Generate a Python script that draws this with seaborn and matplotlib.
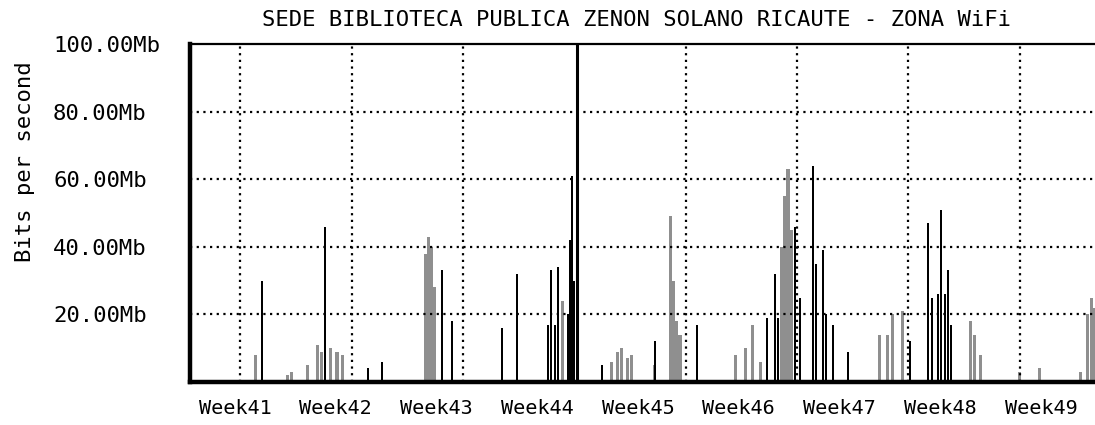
import matplotlib
matplotlib.use("Agg")
import matplotlib.pyplot as plt
import seaborn as sns

# Traffic samples: time in days from the left edge of the graph, rate in Mb/s
in_days = [4.10, 6.12, 6.43, 7.38, 8.01, 8.32, 8.83, 9.27, 9.59,
           14.82, 15.01, 15.20, 15.39, 23.52,
           26.61, 26.93, 27.24, 27.56, 27.87,
           29.32, 30.27, 30.46, 30.71, 30.90,
           34.37, 35.00, 35.50, 35.95,
           37.33, 37.52, 37.71, 37.90,
           43.51, 43.96, 44.33, 44.90,
           49.19, 49.50, 49.82, 52.34, 53.60, 56.13, 56.57, 56.82, 57.01]
in_mbps = [8, 2, 3, 5, 11, 9, 10, 9, 8,
           38, 43, 40, 28, 24,
           6, 9, 10, 7, 8,
           5, 49, 30, 18, 14,
           8, 10, 17, 6,
           40, 55, 63, 45,
           14, 14, 20, 21,
           18, 14, 8, 3, 4, 3, 20, 25, 22]

out_days = [4.54, 8.51, 11.23, 12.11, 15.89, 16.52,
            19.68, 20.62, 22.58, 22.77, 23.02, 23.21,
            23.84, 23.96, 24.09, 24.22, 25.98,
            29.32, 31.97, 36.39, 36.89, 37.08,
            38.15, 38.47, 39.29, 39.48, 39.92, 40.11, 40.55, 41.50,
            45.41, 46.54, 46.79, 47.17, 47.36, 47.61, 47.80, 47.99]
out_mbps = [30, 46, 4, 6, 33, 18,
            16, 32, 17, 33, 17, 34,
            20, 42, 61, 30, 5,
            12, 17, 19, 32, 19,
            46, 25, 64, 35, 39, 20, 17, 9,
            12, 47, 25, 26, 51, 26, 33, 17]

week_labels = ["Week41", "Week42", "Week43", "Week44", "Week45",
               "Week46", "Week47", "Week48", "Week49"]
y_ticks = [20, 40, 60, 80, 100]
y_tick_labels = ["20.00Mb", "40.00Mb", "60.00Mb", "80.00Mb", "100.00Mb"]

title = "SEDE BIBLIOTECA PUBLICA ZENON SOLANO RICAUTE - ZONA WiFi"

sns.set_theme(style="white")
mono = ["DejaVu Sans Mono", "DejaVu Sans"]
plt.rcParams["font.family"] = mono

W, H = 1095, 425
fig = plt.figure(figsize=(W / 100, H / 100), dpi=100)
fig.patch.set_facecolor("white")
ax = fig.add_axes([190 / W, 43 / H, 905 / W, 338 / H])
ax.set_facecolor("white")

sns.barplot(x=in_days, y=in_mbps, native_scale=True, orient="x",
            color="#8f8f8f", width=1.0, errorbar=None, linewidth=0,
            saturation=1, ax=ax, zorder=2)
sns.barplot(x=out_days, y=out_mbps, native_scale=True, orient="x",
            color="black", width=1.3, errorbar=None, linewidth=0,
            saturation=1, ax=ax, zorder=3)

x_max = 57.07
ax.set_xlim(0, x_max)
ax.set_ylim(0, 100)

# dotted grid: horizontal every 20 Mb, vertical at each week boundary
dot = (0, (1, 2))
for yv in y_ticks[:-1]:
    ax.axhline(yv, color="black", lw=1.6, linestyle=dot, zorder=4)
grid_start, grid_step = 3.17, 7.02
for i in range(8):
    xv = grid_start + i * grid_step
    if i == 3:
        ax.axvline(xv + 0.15, color="black", lw=2.2, zorder=5)
    else:
        ax.axvline(xv, color="black", lw=1.6, linestyle=dot, zorder=4)

# axes frame
for side in ["left", "bottom"]:
    ax.spines[side].set_visible(True)
    ax.spines[side].set_linewidth(3.2)
    ax.spines[side].set_color("black")
ax.spines["top"].set_linewidth(1.6)
ax.spines["top"].set_color("black")
ax.spines["right"].set_visible(False)

# week labels
lbl_start, lbl_step = 2.84, 6.354
ax.set_xticks([lbl_start + i * lbl_step for i in range(len(week_labels))])
ax.set_xticklabels(week_labels, fontsize=14.5, color="black")
ax.tick_params(axis="x", length=0, pad=12)

# rate labels, left aligned in the margin
ax.set_yticks(y_ticks)
ax.set_yticklabels(y_tick_labels, fontsize=16, color="black")
ax.tick_params(axis="y", length=0, pad=98.6)
for t in ax.get_yticklabels():
    t.set_horizontalalignment("left")

ax.set_xlabel("")
ax.set_ylabel("")

fig.text(25 / W, 1 - 162 / H, "Bits per second", rotation=90,
         ha="center", va="center", fontsize=16, color="black")
fig.text(637 / W, 1 - 20 / H, title, ha="center", va="center",
         fontsize=16, color="black")

fig.savefig("out.png", dpi=100, facecolor="white")
